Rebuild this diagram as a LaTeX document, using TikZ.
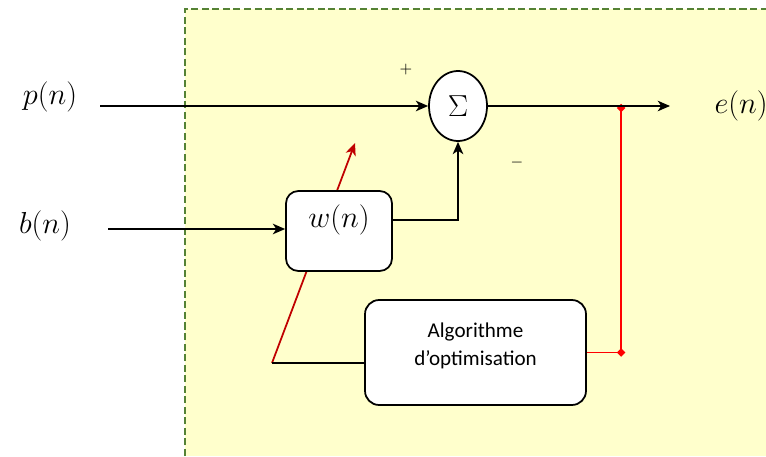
\documentclass[tikz,border=0pt]{standalone}
\usepackage{fontspec}
\setsansfont{Carlito}
\usetikzlibrary{arrows, arrows.meta, positioning, shapes.geometric}
\definecolor{fondjaune}{RGB}{255,255,204}
\definecolor{vertcadre}{RGB}{84,130,53}
\definecolor{rougefonce}{RGB}{192,0,0}
\tikzstyle{bloc} = [draw, fill=white, line width=1pt, rounded corners=7pt]
\tikzstyle{somme} = [draw, ellipse, fill=white, line width=1pt, inner sep=0,
   minimum width=1.16cm, minimum height=1.4cm, font=\fontsize{17}{20}\selectfont]
\tikzstyle{fleche} = [line width=1pt, -{Stealth[length=7pt, width=6pt, inset=2pt]}]
\tikzstyle{retour} = [line width=1pt, red]
\tikzstyle{ajuste} = [line width=1pt, rougefonce, -{Stealth[length=7pt, width=6pt, inset=2pt]}]
\tikzstyle{jonction} = [diamond, fill=red, inner sep=0, minimum size=5pt]
\tikzstyle{signal} = [font=\fontsize{17}{20}\selectfont]

\begin{document}
\begin{tikzpicture}[x=0.02cm, y=-0.02cm]
  \useasboundingbox (0,0) rectangle (766,456);

  % zone du filtre
  \fill[fondjaune] (185,9) rectangle (766,456);
  \draw[vertcadre, dash pattern=on 4pt off 2pt, line width=0.8pt] (185,456) -- (185,9) -- (766,9);

  \coordinate (pivot) at (272,363);
  \coordinate (pointe) at (355,143);
  \draw[ajuste] (pivot) -- (pointe); % passe sous le bloc w(n)

  \node[somme] (sigma) at (458,106) {$\Sigma$};
  \node[bloc, minimum width=2.12cm, minimum height=1.6cm,
        label={[signal, yshift=0.22cm]center:$w(n)$}] (w) at (339,231) {};
  \node[bloc, rounded corners=8pt, minimum width=4.42cm, minimum height=2.1cm,
        label={[align=center, font=\sffamily\fontsize{12}{16}\selectfont, yshift=0.14cm]center:Algorithme\\d’optimisation}]
        (algo) at (475.5,352.5) {};

  \node[signal] (p) at (50,97) {$p(n)$};
  \node[signal] (b) at (45,226) {$b(n)$};
  \node[signal] (e) at (741,106) {$e(n)$};
  \node[font=\small] (plus) at (406,70) {$+$};
  \node[font=\small] (moins) at (517,163) {$-$};

  \coordinate (pin) at (100,106);
  \coordinate (bin) at (108,229);
  \coordinate (eout) at (670,106);
  \node[jonction] (jhaut) at (621,108) {};
  \node[jonction] (jbas) at (621,352.5) {};

  \draw[fleche] (pin) -- (sigma);
  \draw[fleche] (bin) -- (w.west |- bin);
  \draw[fleche] ([yshift=0.22cm]w.east) -| (sigma.south);
  \draw[fleche] (sigma) -- (eout);
  \draw[retour] (algo.east) -- (jbas.center) -- (jhaut.center);
  \draw[line width=1pt] ([yshift=-0.21cm]algo.west) -- (pivot);
\end{tikzpicture}
\end{document}
